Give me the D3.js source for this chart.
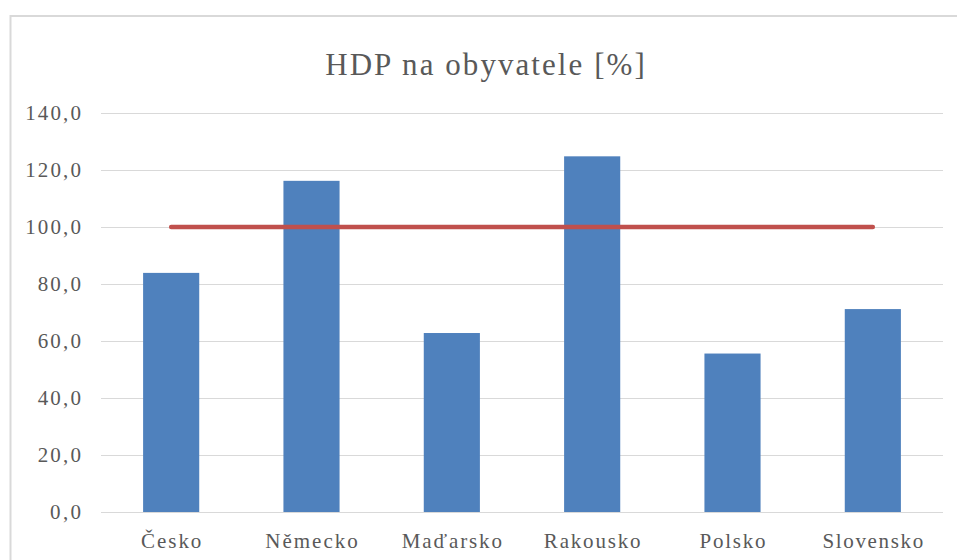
<!DOCTYPE html>
<html>
  <head>
    <meta charset="utf-8">
    <title>HDP na obyvatele</title>
    <script src="https://d3js.org/d3.v7.min.js" charset="utf-8"></script>
    <style>
      html, body { margin: 0; padding: 0; background: #fff; }
      svg { display: block; }
    </style>
  </head>
  <body>
    <div id="chart"></div>
    <script>
      // data
      var categories = ["Česko", "Německo", "Maďarsko", "Rakousko", "Polsko", "Slovensko"];
      var values = [83.9, 116.2, 62.8, 124.8, 55.6, 71.2];
      var reference = [100, 100, 100, 100, 100, 100];
      var yTicks = [0, 20, 40, 60, 80, 100, 120, 140];

      var width = 957, height = 560;
      var plot = {left: 101, right: 943, top: 113, bottom: 512};
      var serif = "'Liberation Serif'";

      var svg = d3.select("#chart").append("svg")
          .attr("width", width)
          .attr("height", height);

      // widen text a little, like the original rendering
      function stretch(sel, k) {
        sel.each(function() {
          var w = this.getComputedTextLength();
          d3.select(this).attr("textLength", w * k).attr("lengthAdjust", "spacing");
        });
      }

      // chart area frame
      svg.append("rect")
          .attr("x", 10.5).attr("y", 16)
          .attr("width", 960).attr("height", 560)
          .attr("fill", "#fff")
          .attr("stroke", "#d9d9d9")
          .attr("stroke-width", 2);

      var x = d3.scaleBand()
          .domain(categories)
          .range([plot.left, plot.right])
          .paddingInner(0.6)
          .paddingOuter(0.3);

      var y = d3.scaleLinear()
          .domain([0, 140])
          .range([plot.bottom, plot.top]);

      // gridlines
      svg.append("g").selectAll("line")
          .data(yTicks)
          .enter().append("line")
          .attr("x1", plot.left).attr("x2", plot.right)
          .attr("y1", function(d) { return Math.round(y(d)) + 0.5; })
          .attr("y2", function(d) { return Math.round(y(d)) + 0.5; })
          .attr("stroke", "#d9d9d9")
          .attr("stroke-width", 1);

      // y tick labels
      svg.append("g").selectAll("text")
          .data(yTicks)
          .enter().append("text")
          .style("font-family", serif)
          .style("font-size", "21px")
          .style("fill", "#595959")
          .attr("x", 81)
          .attr("y", function(d) { return y(d) + 7; })
          .attr("text-anchor", "end")
          .text(function(d) { return d3.format(".1f")(d).replace(".", ","); })
          .call(stretch, 1.18);

      // bars
      svg.append("g").selectAll("rect")
          .data(values)
          .enter().append("rect")
          .attr("x", function(d, i) { return x(categories[i]); })
          .attr("y", function(d) { return y(d); })
          .attr("width", x.bandwidth())
          .attr("height", function(d) { return y(0) - y(d); })
          .attr("fill", "#4f81bd");

      // reference line
      var line = d3.line()
          .x(function(d, i) { return x(categories[i]) + x.bandwidth() / 2; })
          .y(function(d) { return y(d); });

      svg.append("path")
          .datum(reference)
          .attr("d", line)
          .attr("fill", "none")
          .attr("stroke", "#c0504d")
          .attr("stroke-width", 4.5)
          .attr("stroke-linecap", "round");

      // category labels
      svg.append("g").selectAll("text")
          .data(categories)
          .enter().append("text")
          .style("font-family", serif)
          .style("font-size", "21px")
          .style("fill", "#595959")
          .attr("x", function(d) { return x(d) + x.bandwidth() / 2; })
          .attr("y", 548)
          .attr("text-anchor", "middle")
          .text(function(d) { return d; })
          .call(stretch, 1.15);

      // title
      svg.append("text")
          .style("font-family", serif)
          .style("font-size", "31px")
          .style("fill", "#595959")
          .attr("x", 485)
          .attr("y", 75)
          .attr("text-anchor", "middle")
          .text("HDP na obyvatele [%]")
          .call(stretch, 1.14);
    </script>
  </body>
</html>
